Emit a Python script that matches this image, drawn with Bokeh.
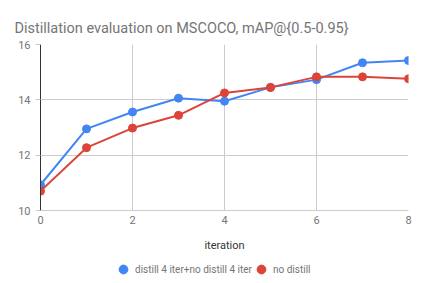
from bokeh.plotting import figure
from bokeh.layouts import column
from bokeh.models import Legend, LegendItem, FixedTicker, Range1d
from bokeh.embed import file_html
from bokeh.resources import INLINE

iterations = [0, 1, 2, 3, 4, 5, 6, 7, 8]
distill_mixed = [10.93, 12.95, 13.56, 14.06, 13.95, 14.45, 14.73, 15.34, 15.42]
no_distill = [10.70, 12.27, 12.98, 13.44, 14.25, 14.45, 14.83, 14.83, 14.76]
series_names = ["distill 4 iter+no distill 4 iter", "no distill"]
x_ticks = [0, 2, 4, 6, 8]
y_ticks = [10, 12, 14, 16]

BLUE = "#4285F4"
RED = "#DB4437"
GREY = "#757575"
FONT = "Roboto"

p = figure(frame_width=368, frame_height=166, output_backend="svg", toolbar_location=None,
           x_range=Range1d(0, 8), y_range=Range1d(10, 16),
           title="Distillation evaluation on MSCOCO, mAP@{0.5-0.95}",
           min_border_left=40, min_border_right=10, min_border_top=44, min_border_bottom=0)
p.outline_line_color = None
p.title.text_font = FONT
p.title.text_font_size = "14.5px"
p.title.text_font_style = "normal"
p.title.text_color = GREY
p.title.offset = -26
p.title.standoff = 16

p.xaxis.ticker = FixedTicker(ticks=x_ticks)
p.yaxis.ticker = FixedTicker(ticks=y_ticks)
for ax in (p.xaxis, p.yaxis):
    ax.major_label_text_font = FONT
    ax.major_label_text_font_size = "11px"
    ax.major_label_text_color = GREY
    ax.minor_tick_line_color = None
    ax.major_tick_in = 0
    ax.minor_tick_out = 0
p.xaxis.axis_line_color = "#cccccc"
p.xaxis.major_tick_line_color = None
p.xaxis.major_tick_out = 0
p.xaxis.major_label_standoff = 5
p.yaxis.axis_line_color = "#333333"
p.yaxis.major_tick_line_color = "#cccccc"
p.yaxis.major_tick_out = 5
p.xaxis.axis_label = "iteration"
p.xaxis.axis_label_text_font = FONT
p.xaxis.axis_label_text_font_size = "11px"
p.xaxis.axis_label_text_font_style = "normal"
p.xaxis.axis_label_text_color = "#333333"
p.xaxis.axis_label_standoff = 12
p.xgrid.grid_line_color = "#cccccc"
p.ygrid.grid_line_color = "#cccccc"

p.line(iterations, distill_mixed, color=BLUE, line_width=2)
p.scatter(iterations, distill_mixed, color=BLUE, size=8)
p.line(iterations, no_distill, color=RED, line_width=2)
p.scatter(iterations, no_distill, color=RED, size=8)

# legend row as a separate strip below the chart
lg = figure(width=418, height=28, output_backend="svg", toolbar_location=None,
            x_range=Range1d(0, 1), y_range=Range1d(0, 1),
            min_border=0)
lg.axis.visible = False
lg.grid.visible = False
lg.outline_line_color = None
k1 = lg.scatter(x=[-5], y=[-5], color=BLUE, size=8)
k2 = lg.scatter(x=[-5], y=[-5], color=RED, size=8)
common = dict(orientation="horizontal",
              label_text_font=FONT, label_text_font_size="10px",
              label_text_color=GREY, border_line_color=None,
              background_fill_alpha=0,
              glyph_width=22, glyph_height=22, label_height=22,
              label_standoff=1, spacing=0, padding=0, margin=0)
leg_a = Legend(items=[LegendItem(label=series_names[0], renderers=[k1])],
               location=(72, 2), **common)
leg_b = Legend(items=[LegendItem(label=series_names[1], renderers=[k2])],
               location=(210, 2), **common)
lg.add_layout(leg_a, "center")
lg.add_layout(leg_b, "center")

layout = column(p, lg, spacing=0)
open("out.html", "w").write(file_html(layout, INLINE))
